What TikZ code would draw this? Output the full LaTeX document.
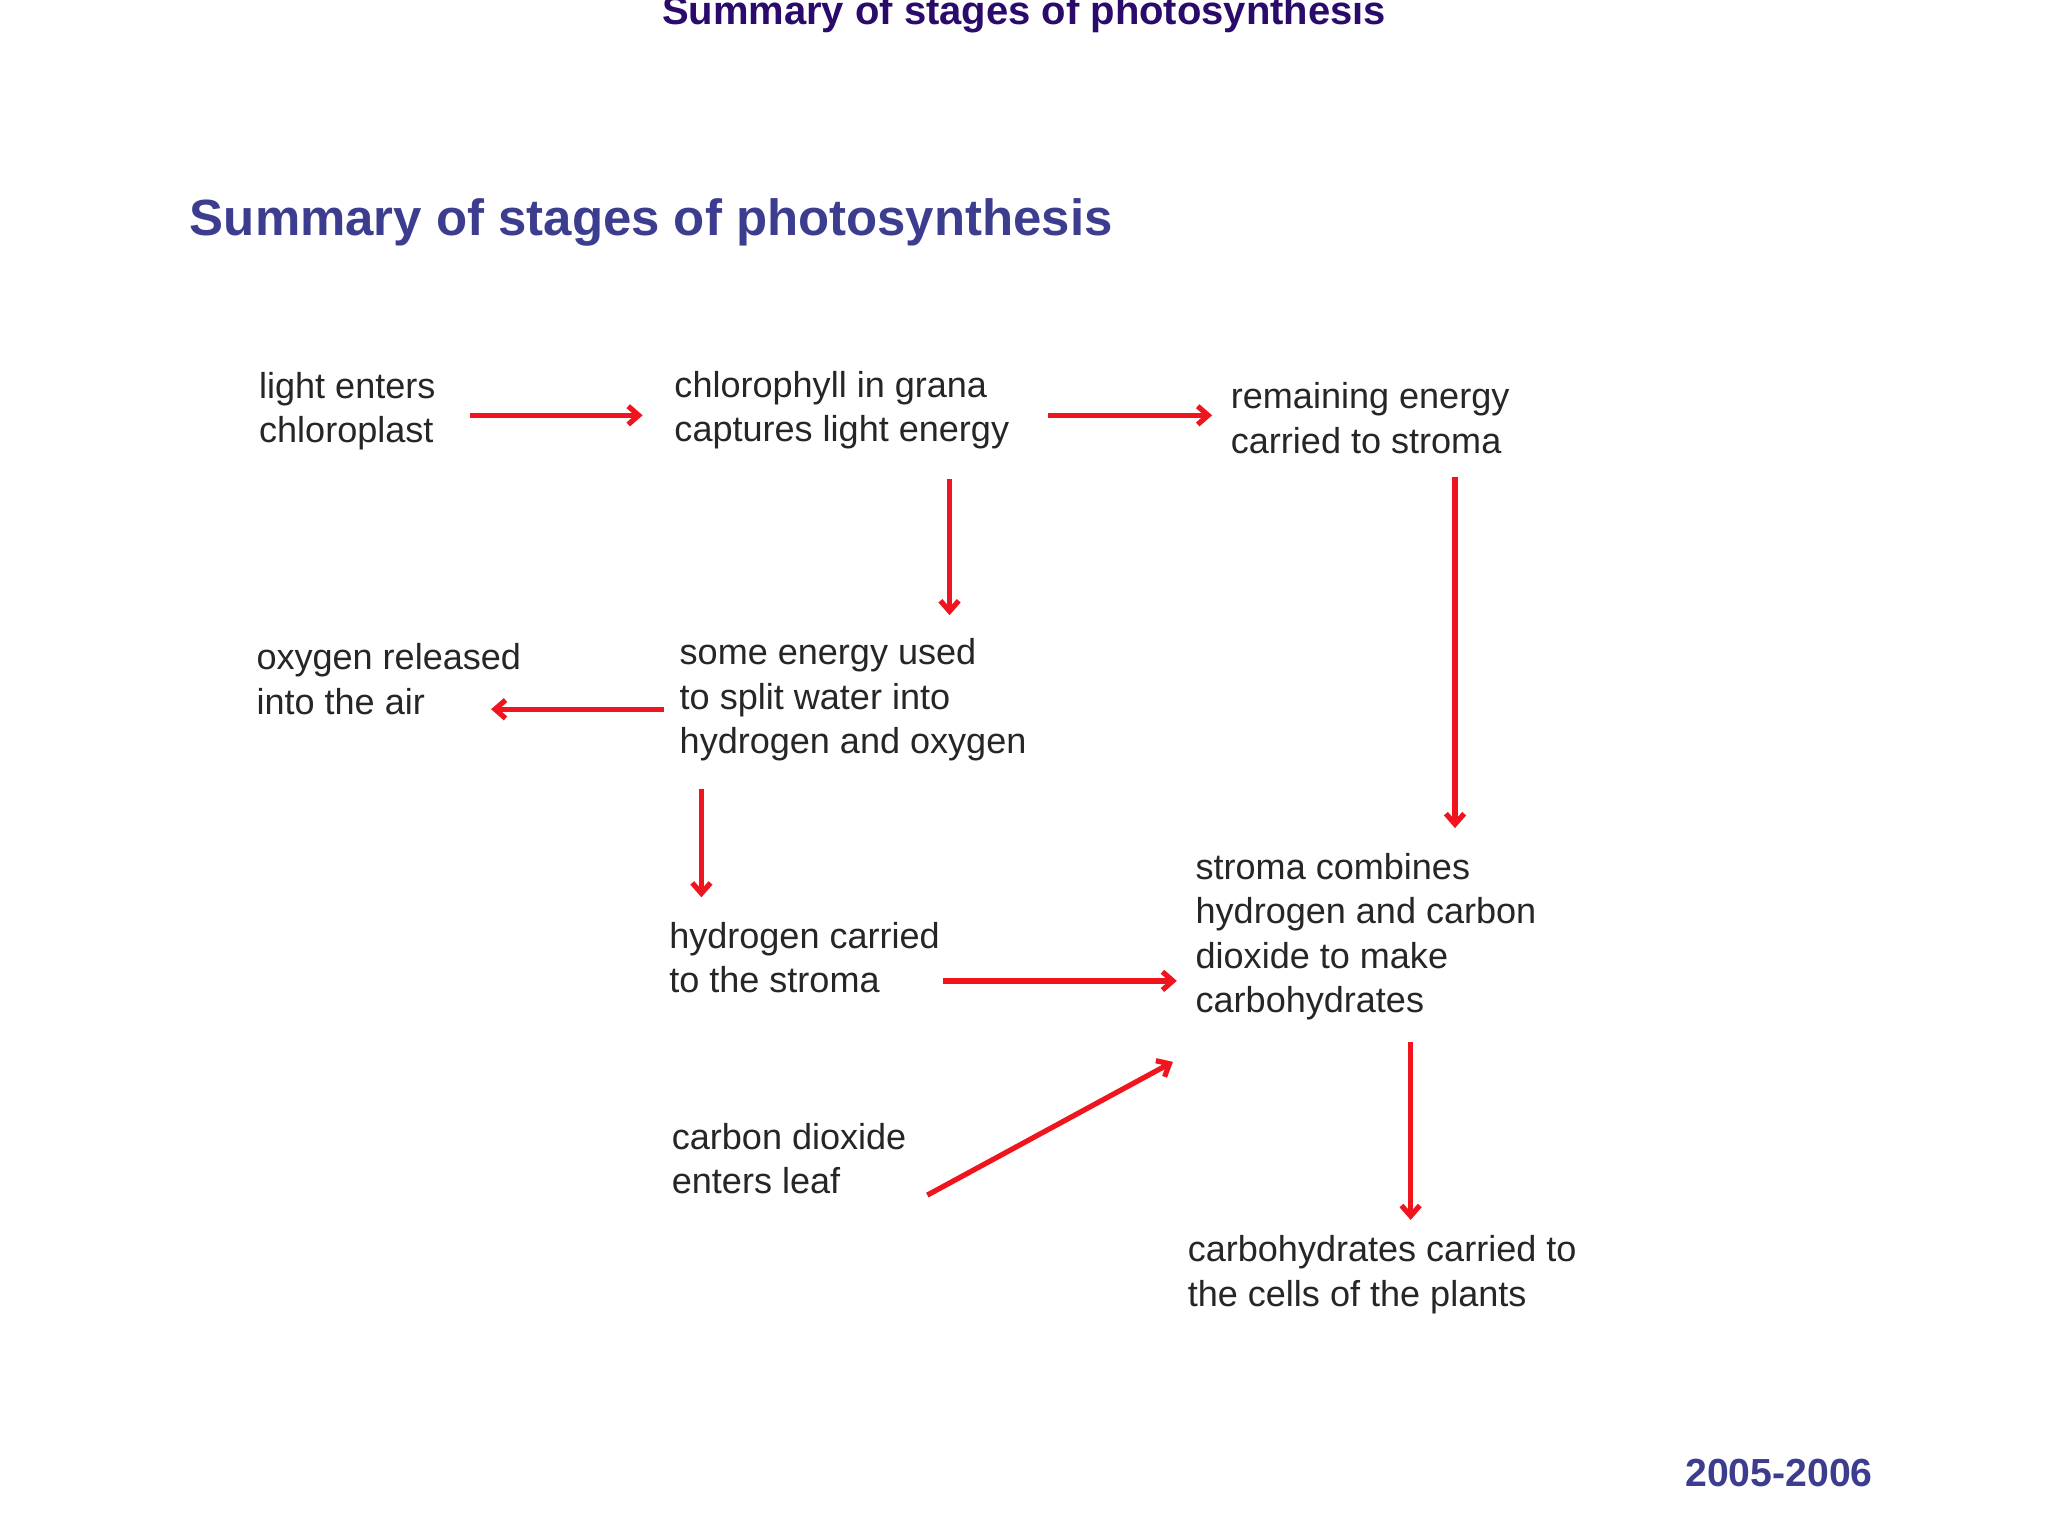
\documentclass[tikz,border=0pt]{standalone}
\usepackage{fontspec}
\setmainfont{Liberation Sans}
\usetikzlibrary{arrows.meta}
\definecolor{hd}{HTML}{3D3D8F}
\definecolor{tp}{HTML}{2A0A6B}
\definecolor{ar}{HTML}{F0141E}
\begin{document}
\begin{tikzpicture}[x=0.5pt,y=-0.5pt,
  txt/.style={anchor=west,align=left,inner sep=0pt,font=\fontsize{13.8}{17}\selectfont,text=black!85},
  arr/.style={draw=ar,line width=2pt,-{Straight Barb[length=4pt,width=7pt]}}]
\fill[white] (0,0) rectangle (1568,1176);
\useasboundingbox (0,0) rectangle (1568,1176);
\node[font=\bfseries\fontsize{15.3}{17}\selectfont,text=tp] (top) at (784,11) {Summary of stages of photosynthesis};
\node[anchor=west,inner sep=0pt,font=\bfseries\fontsize{19.5}{22}\selectfont,text=hd] (head) at (145,170) {Summary of stages of photosynthesis};
\node[txt] (light) at (198,315) {light enters\\chloroplast};
\node[txt] (chl) at (516,314) {chlorophyll in grana\\captures light energy};
\node[txt] (rem) at (942,320) {remaining energy\\carried to stroma};
\node[txt] (oxy) at (196,520) {oxygen released\\into the air};
\node[txt] (some) at (520,536) {some energy used\\to split water into\\hydrogen and oxygen};
\node[txt] (hyd) at (512,733) {hydrogen carried\\to the stroma};
\node[txt] (str) at (915,717) {stroma combines\\hydrogen and carbon\\dioxide to make\\carbohydrates};
\node[txt] (co2) at (514,887) {carbon dioxide\\enters leaf};
\node[txt] (carb) at (909,976) {carbohydrates carried to\\the cells of the plants};
\node[anchor=center,inner sep=0pt,font=\bfseries\fontsize{15}{17}\selectfont,text=hd] (yr) at (1362,1128) {2005-2006};
\coordinate (a1s) at (360,318); \coordinate (a1e) at (492,318);
\coordinate (a2s) at (802,318); \coordinate (a2e) at (928,318);
\coordinate (a3s) at (727,367); \coordinate (a3e) at (727,471);
\coordinate (a4s) at (1114,365); \coordinate (a4e) at (1114,634);
\coordinate (a5s) at (508,543); \coordinate (a5e) at (376,543);
\coordinate (a6s) at (537,604); \coordinate (a6e) at (537,687);
\coordinate (a7s) at (722,751); \coordinate (a7e) at (901,751);
\coordinate (a8s) at (710,915); \coordinate (a8e) at (898,813);
\coordinate (a9s) at (1080,798); \coordinate (a9e) at (1080,934);
\foreach \i in {1,...,9} \draw[arr] (a\i s) -- (a\i e);
\end{tikzpicture}
\end{document}
